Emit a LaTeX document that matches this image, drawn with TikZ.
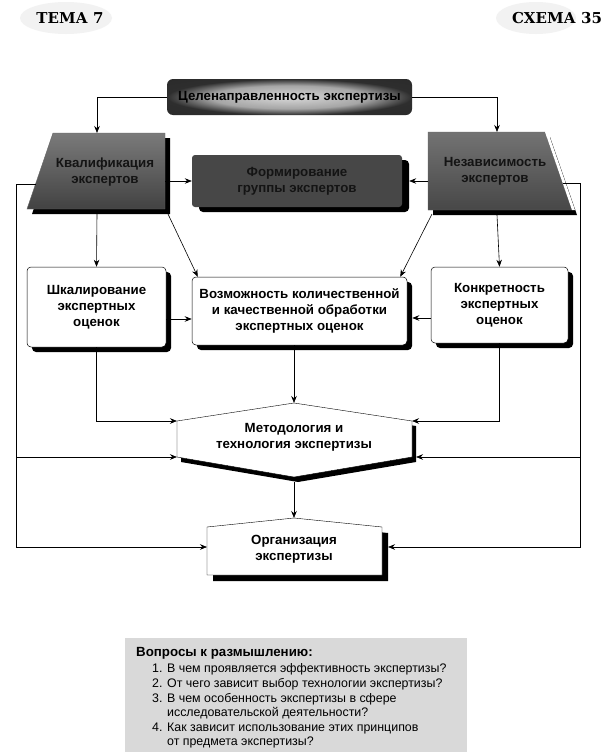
\documentclass[tikz,border=0pt]{standalone}
\usepackage{fontspec}
\setmainfont{Liberation Sans}
\newfontfamily\diag{Liberation Sans}
\newfontfamily\headfont{DejaVu Serif}
\usetikzlibrary{arrows.meta}
\pgfdeclareradialshading{glow}{\pgfpoint{0bp}{0bp}}{color(0bp)=(black!15); color(16bp)=(black!35); color(25bp)=(black!82); color(50bp)=(black!85)}
\begin{document}
\begin{tikzpicture}[x=1pt,y=-1pt,
  arr/.style={-{Stealth[length=7pt,width=5.5pt]}, line width=0.6pt},
  dfont/.style={font=\diag\bfseries\fontsize{13.3}{16}\selectfont},
  whitebox/.style={dfont, draw, line width=0.5pt, fill=white, rounded corners=4pt, align=center, inner sep=0pt},
  shadowbox/.style={fill=black, rounded corners=4pt},
  darktext/.style={dfont, text=black!92, align=center},
  qtext/.style={anchor=base west, font=\fontsize{12.4}{15}\selectfont, inner sep=0pt},
  headtxt/.style={font=\headfont\bfseries\fontsize{15}{17}\selectfont, inner sep=0pt}
]
\useasboundingbox (0,0) rectangle (612,755);
\fill[white] (0,0) rectangle (612,755);

% headers
\fill[black!5] (66,18) ellipse (46 and 16);
\fill[black!5] (536,18) ellipse (40 and 16);
\node[headtxt] (tema) at (70,18) {ТЕМА 7};
\node[headtxt] (schema) at (557,18) {СХЕМА 35};

% top box
\node[dfont, shade, shading=glow, rounded corners=6pt, minimum width=245pt, minimum height=36pt, inner sep=0pt] (goal) at (289.5,97) {Целенаправленность экспертизы};

% left trapezoid
\fill[black] (58,138) -- (170,138) -- (170,214) -- (32,214) -- cycle;
\shade[top color=black!52, bottom color=black!74, draw=black!60, line width=0.4pt] (53,133) -- (165,133) -- (165,209) -- (27,209) -- cycle;
\node[darktext] (kval) at (105,172) {Квалификация\\экспертов};
\coordinate (kvalTop) at (97,133);
\coordinate (kvalR) at (165,181);
\coordinate (kvalL) at (35.6,184);
\coordinate (kvalB) at (97,214);
\coordinate (kvalBR) at (168,214);

% right trapezoid
\fill[black] (433,137) -- (550,137) -- (577,215) -- (433,215) -- cycle;
\shade[top color=black!55, bottom color=black!72, draw=black!60, line width=0.4pt] (428,132) -- (545,132) -- (572,210) -- (428,210) -- cycle;
\fill[white] (545,132) -- (548,132) -- (575,210) -- (572,210) -- cycle;
\node[darktext] (nez) at (495,171) {Независимость\\экспертов};
\coordinate (nezTop) at (497,132);
\coordinate (nezL) at (428,181);
\coordinate (nezR) at (562.7,183);
\coordinate (nezB) at (497,215);
\coordinate (nezBL) at (432,214);

% middle dark box
\fill[shadowbox] (199,160) rectangle (409,212);
\node[darktext, fill=black!72, rounded corners=3pt, minimum width=210pt, minimum height=52pt, inner sep=0pt] (form) at (297,181) {Формирование\\группы экспертов};

% second row
\fill[shadowbox] (32,272) rectangle (171,352);
\fill[shadowbox] (197,282) rectangle (412,350);
\fill[shadowbox] (436,272) rectangle (573,348);
\node[whitebox, minimum width=139pt, minimum height=80pt] (scal) at (96.5,307) {Шкалирование\\экспертных\\оценок};
\node[whitebox, minimum width=215pt, minimum height=68pt] (poss) at (299.5,311) {Возможность количественной\\и качественной обработки\\экспертных оценок};
\node[whitebox, minimum width=137pt, minimum height=76pt] (konk) at (499.5,305) {Конкретность\\экспертных\\оценок};

% hexagon
\fill[black] (298,408) -- (416,426) -- (416,462) -- (298,482) -- (181,462) -- (181,426) -- cycle;
\filldraw[fill=white, draw=black, line width=0.4pt] (294,403) -- (412,421) -- (412,457) -- (294,477) -- (177,457) -- (177,421) -- cycle;
\node[dfont, align=center] (meth) at (294,437) {Методология и\\технология экспертизы};
\coordinate (hexT) at (294,403);
\coordinate (hexL1) at (177,421);
\coordinate (hexL2) at (177,457);
\coordinate (hexR1) at (412,421);
\coordinate (hexR2) at (416,457);
\coordinate (hexB) at (294,482);

% organisation
\fill[black] (213,533) -- (300,524) -- (388,533) -- (388,581) -- (213,581) -- cycle;
\filldraw[fill=white, draw=black, line width=0.4pt] (207,527) -- (294,518) -- (382,527) -- (382,575) -- (207,575) -- cycle;
\node[dfont, align=center] (org) at (294,549) {Организация\\экспертизы};
\coordinate (orgT) at (294,518);
\coordinate (orgL) at (207,547);
\coordinate (orgR) at (388,547);

% outer frame corners
\coordinate (outLtop) at (16,184);
\coordinate (outLbot) at (16,547);
\coordinate (outRtop) at (580,183);
\coordinate (outRbot) at (580,547);

% connectors
\draw[arr] (goal.west) -| (kvalTop);
\draw[arr] (goal.east) -| (nezTop);
\draw[arr] (kvalR) -- (form.west);
\draw[arr] (nezL) -- ([xshift=7pt]form.east);
\draw[arr] (kvalB) -- (scal.north);
\draw[arr] (kvalBR) -- ([xshift=6pt]poss.north west);
\draw[arr] (nezBL) -- ([xshift=-7pt]poss.north east);
\draw[arr] (nezB) -- (konk.north);
\draw[arr] ([yshift=-12pt]scal.east) -- ([yshift=-8pt]poss.west);
\draw[arr] ([yshift=-13pt]konk.west) -- ([xshift=5pt,yshift=-7pt]poss.east);
\draw[arr] (scal.south) |- (hexL1);
\draw[arr] (konk.south) |- (hexR1);
\draw[arr] (poss.south -| hexT) -- (hexT);
\draw[arr] (hexB) -- (orgT);
\draw[arr] (kvalL) -- (outLtop) -- (outLbot) -- (orgL);
\draw[arr] (outLbot |- hexL2) -- (hexL2);
\draw[arr] (nezR) -- (outRtop) -- (outRbot) -- (orgR);
\draw[arr] (outRbot |- hexR2) -- (hexR2);

% questions
\node[fill=black!15, minimum width=342pt, minimum height=114pt, inner sep=0pt] (qbox) at (296,695) {};
\node[qtext, font=\bfseries\fontsize{13.3}{15}\selectfont] (q0) at (136,656) {Вопросы к размышлению:};
\node[qtext] (q1) at (152,672) {1. В чем проявляется эффективность экспертизы?};
\node[qtext] (q2) at (152,687) {2. От чего зависит выбор технологии экспертизы?};
\node[qtext] (q3) at (152,702) {3. В чем особенность экспертизы в сфере};
\node[qtext] (q3b) at (152,716) {\phantom{3. }исследовательской деятельности?};
\node[qtext] (q4) at (152,731) {4. Как зависит использование этих принципов};
\node[qtext] (q4b) at (152,745) {\phantom{4. }от предмета экспертизы?};
\end{tikzpicture}
\end{document}
